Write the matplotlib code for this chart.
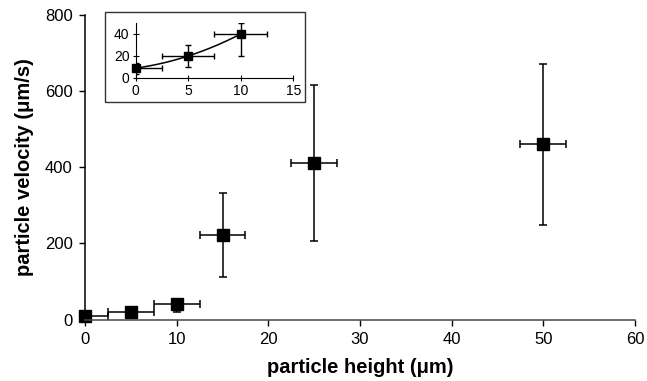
"""
particle velocity vs particle height, with inset for the low heights
"""
import numpy as np
import matplotlib.pyplot as plt
from matplotlib.patches import Rectangle

plt.rcParams['font.family'] = ['Liberation Sans', 'DejaVu Sans']

# datos principales
altura = [0, 5, 10, 15, 25, 50]
velocidad = [9, 20, 40, 222, 410, 460]
err_x = [2.5, 2.5, 2.5, 2.5, 2.5, 2.5]
err_y_abajo = [5, 10, 20, 111, 205, 212]
err_y_arriba = [5, 10, 10, 111, 205, 212]

# datos del recuadro (primeros tres puntos)
altura_in = altura[:3]
velocidad_in = velocidad[:3]
err_x_in = err_x[:3]
err_y_in = [err_y_abajo[:3], err_y_arriba[:3]]

fig = plt.figure(figsize=(6.47, 3.81), dpi=100)
ax = fig.add_axes([0.1314, 0.1614, 0.8501, 0.7992])
eb = ax.errorbar(altura, velocidad, xerr=err_x, yerr=[err_y_abajo, err_y_arriba],
                 fmt='s', color='black', ms=9, elinewidth=1.1, capsize=3, capthick=1.1)
eb[0].set_clip_on(False)
ax.set_xlim(0, 60)
ax.set_ylim(0, 800)
ax.set_xticks([0, 10, 20, 30, 40, 50, 60])
ax.set_yticks([0, 200, 400, 600, 800])
for s in ['top', 'right']:
    ax.spines[s].set_visible(False)
ax.spines['left'].set_linewidth(1.1)
ax.spines['bottom'].set_linewidth(1.1)
ax.spines['bottom'].set_color('#444444')
ax.tick_params(direction='out', length=4, width=1, labelsize=12, pad=5)
ax.set_xlabel('particle height (\u03bcm)', fontsize=14.5, fontweight='bold', labelpad=8)
ax.set_ylabel('particle velocity (\u03bcm/s)', fontsize=14.5, fontweight='bold', labelpad=8)

# recuadro
fig.patches.append(Rectangle((0.1623, 0.7323), 0.3091, 0.2362, transform=fig.transFigure,
                             fill=True, facecolor='white', edgecolor='#333333', lw=1, zorder=5))
axi = fig.add_axes([0.2097, 0.7953, 0.2436, 0.1444])
axi.set_zorder(6)
coef = np.polyfit(altura_in, velocidad_in, 2)
xs = np.linspace(altura_in[0], altura_in[-1], 50)
axi.plot(xs, np.polyval(coef, xs), color='black', lw=1.1)
ebi = axi.errorbar(altura_in, velocidad_in, xerr=err_x_in, yerr=err_y_in,
                   fmt='s', color='black', ms=5.5, elinewidth=1, capsize=2.5, capthick=1)
ebi[0].set_clip_on(False)
axi.set_xlim(0, 15)
axi.set_ylim(0, 50)
axi.set_xticks([0, 5, 10, 15])
axi.set_yticks([0, 20, 40])
for s in ['top', 'right']:
    axi.spines[s].set_visible(False)
axi.patch.set_visible(False)
axi.tick_params(direction='inout', length=5, width=0.8, labelsize=10, pad=2)

fig.savefig('out.png', dpi=100)
